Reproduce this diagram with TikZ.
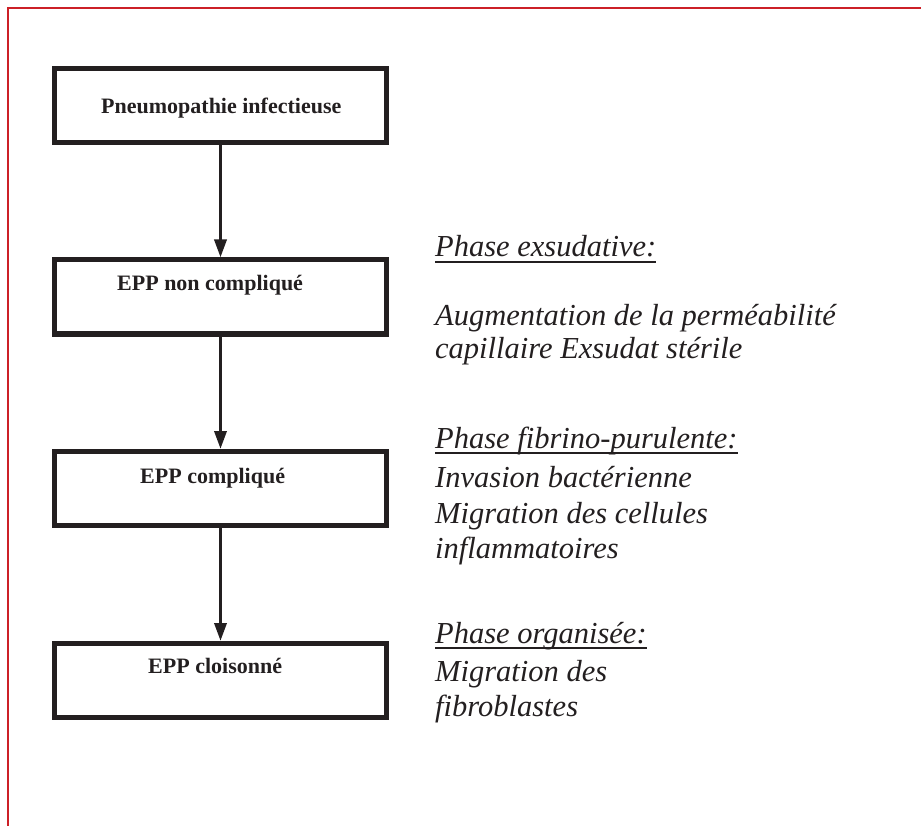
\documentclass[tikz,border=0pt]{standalone}
\usepackage{fontspec}
\setmainfont{Liberation Serif}
\usetikzlibrary{arrows.meta}
\definecolor{ink}{RGB}{35,31,32}
\definecolor{frame}{RGB}{204,32,39}
\newcommand{\myul}[1]{\setbox0\hbox{#1}\rlap{\rule[-5.6pt]{\wd0}{1.9pt}}\box0}
\tikzset{
  stepbox/.style={draw=ink, line width=5pt, minimum width=332pt, minimum height=74pt, inner sep=0pt},
  boxtext/.style={anchor=base west, inner sep=0pt, text=ink, font=\fontsize{22}{26}\selectfont\bfseries},
  phasetext/.style={anchor=base west, inner sep=0pt, text=ink, font=\fontsize{30.5}{35}\selectfont\itshape},
  flow/.style={draw=ink, line width=3.5pt, -{Triangle[width=12pt,length=18pt]}}
}
\begin{document}
\begin{tikzpicture}[x=1pt,y=1pt]
\useasboundingbox (0,0) rectangle (921,-826);
% red frame (top and left edges only)
\draw[frame, line width=2.5pt] (8,-826) -- (8,-8) -- (921,-8);
% boxes
\node[stepbox] (b1) at (220.5,-105.5) {};
\node[stepbox] (b2) at (220.5,-297) {};
\node[stepbox] (b3) at (220.5,-488.5) {};
\node[stepbox] (b4) at (220.5,-680.5) {};
% box texts
\node[boxtext] (l1) at (101,-114) {Pneumopathie infectieuse};
\node[boxtext] (l2) at (117,-291) {EPP non compliqué};
\node[boxtext] (l3) at (140,-483) {EPP compliqué};
\node[boxtext] (l4) at (148,-673) {EPP cloisonné};
% arrows
\draw[flow] (b1.south) -- (b2.north);
\draw[flow] (b2.south) -- (b3.north);
\draw[flow] (b3.south) -- (b4.north);
% phase texts
\node[phasetext] (p1h) at (435,-257) {\myul{Phase exsudative:}};
\node[phasetext] (p1a) at (435,-326) {Augmentation de la perméabilité};
\node[phasetext] (p1b) at (435,-359) {capillaire Exsudat stérile};
\node[phasetext] (p2h) at (435,-448) {\myul{Phase fibrino-purulente:}};
\node[phasetext] (p2a) at (435,-487) {Invasion bactérienne};
\node[phasetext] (p2b) at (435,-523) {Migration des cellules};
\node[phasetext] (p2c) at (435,-558) {inflammatoires};
\node[phasetext] (p3h) at (435,-643) {\myul{Phase organisée:}};
\node[phasetext] (p3a) at (435,-681) {Migration des};
\node[phasetext] (p3b) at (435,-716) {fibroblastes};
\end{tikzpicture}
\end{document}
